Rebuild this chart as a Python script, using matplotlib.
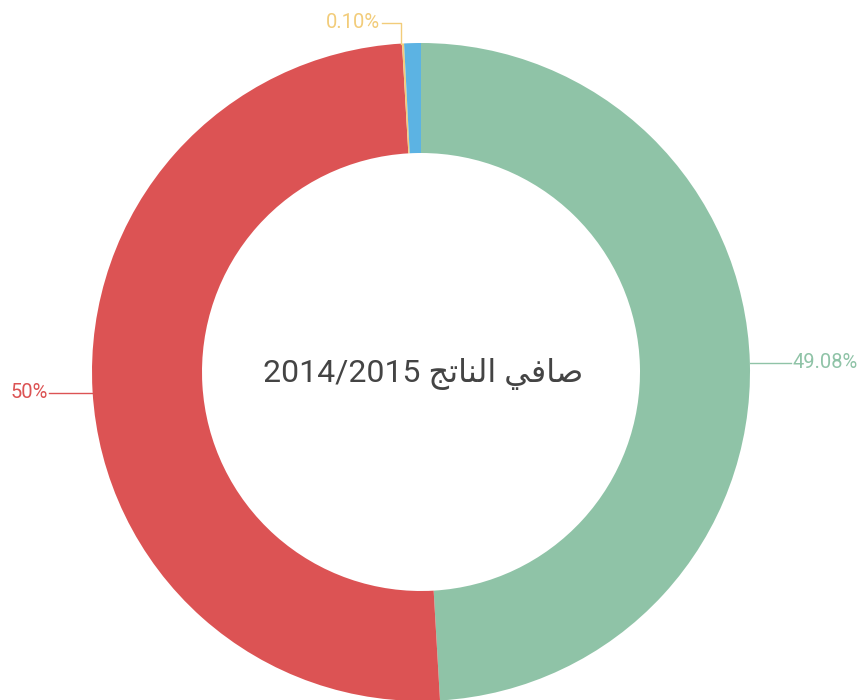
# Donut chart: net result 2014/2015
import matplotlib
matplotlib.use("Agg")
import matplotlib.pyplot as plt

labels = ["49.08%", "50%", "0.10%", ""]
values = [49.08, 50.0, 0.10, 0.82]
colors = ["#8fc3a7", "#dc5354", "#f2cc7a", "#5cb3e3"]

# Arabic title "صافي الناتج" shaped by hand (presentation forms, visual order)
title_ar = "\uFE9E\uFE97\uFE8E\uFEE8\uFEDF\uFE8D \uFEF2\uFED3\uFE8E\uFEBB"
title = "2014/2015 " + title_ar

fonts = ["Roboto", "DejaVu Sans"]

fig = plt.figure(figsize=(8.63, 7.0), dpi=100)
ax = fig.add_axes([0, 0, 1, 1])

cx, cy, r = 421, 700 - 372, 329
wedges, _ = ax.pie(values, colors=colors, startangle=90, counterclock=False,
                   center=(cx, cy), radius=r, frame=True,
                   wedgeprops=dict(width=110, linewidth=0))
ax.set_xlim(0, 863)
ax.set_ylim(0, 700)
ax.axis("off")

# leader lines + labels
# green (right)
ax.plot([cx + r, 791], [cy + 9, cy + 9], color=colors[0], lw=1)
ax.text(792, cy + 9, labels[0], color=colors[0], fontsize=14.5, va="center",
        ha="left", family=fonts)
# red (left)
ax.plot([92, 49], [cy - 21, cy - 21], color=colors[1], lw=1)
ax.text(48, cy - 21, labels[1], color=colors[1], fontsize=14.5, va="center",
        ha="right", family=fonts)
# yellow (top)
ax.plot([401, 401, 382], [700 - 44, 700 - 23, 700 - 23], color=colors[2], lw=1)
ax.text(380, 700 - 23, labels[2], color=colors[2], fontsize=14.5, va="center",
        ha="right", family=fonts)

ax.text(cx + 2, cy - 2, title, color="#444444", fontsize=23, ha="center",
        va="center", family=fonts)

fig.savefig("out.png", dpi=100)
